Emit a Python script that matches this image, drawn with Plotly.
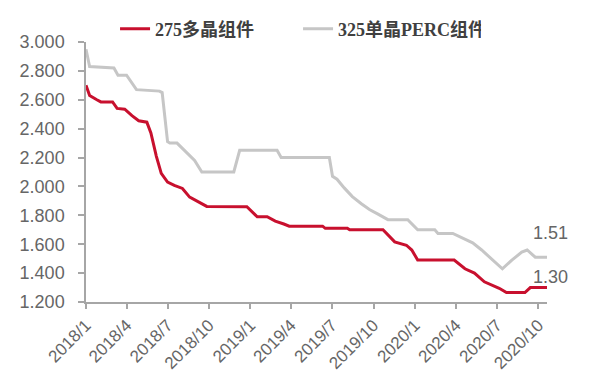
import plotly.graph_objects as go

# ---- data ----
poly_dates = ["2018-01-01", "2018-01-09", "2018-01-25", "2018-02-03", "2018-03-01", "2018-03-11",
              "2018-03-28", "2018-04-13", "2018-04-28", "2018-05-16", "2018-05-25", "2018-06-06",
              "2018-06-17", "2018-07-01", "2018-07-16", "2018-08-03", "2018-08-19", "2018-09-04",
              "2018-09-26", "2018-12-24", "2019-01-16", "2019-02-07", "2019-02-25", "2019-03-16",
              "2019-03-28", "2019-06-10", "2019-06-16", "2019-08-04", "2019-08-09", "2019-10-22",
              "2019-11-17", "2019-12-13", "2019-12-25", "2020-01-07", "2020-03-28", "2020-04-21",
              "2020-05-12", "2020-06-03", "2020-07-06", "2020-07-22", "2020-09-01", "2020-09-13",
              "2020-10-20"]
poly_prices = [2.70, 2.63, 2.60, 2.585, 2.585, 2.54,
               2.535, 2.49, 2.455, 2.445, 2.37, 2.21,
               2.09, 2.03, 2.007, 1.986, 1.926, 1.90,
               1.862, 1.86, 1.79, 1.79, 1.76, 1.74,
               1.725, 1.725, 1.71, 1.71, 1.70, 1.70,
               1.616, 1.593, 1.56, 1.49, 1.49, 1.43,
               1.40, 1.34, 1.295, 1.265, 1.265, 1.30,
               1.30]

perc_dates = ["2018-01-01", "2018-01-09", "2018-03-04", "2018-03-13", "2018-04-01", "2018-04-23",
              "2018-06-13", "2018-06-19", "2018-07-01", "2018-07-06", "2018-07-22", "2018-08-14",
              "2018-08-30", "2018-09-15", "2018-11-25", "2018-12-08", "2019-03-01", "2019-03-10",
              "2019-06-25", "2019-07-02", "2019-07-12", "2019-07-28", "2019-08-15", "2019-09-04",
              "2019-09-22", "2019-10-10", "2019-11-02", "2019-12-16", "2020-01-07", "2020-02-14",
              "2020-02-21", "2020-03-25", "2020-04-16", "2020-05-08", "2020-05-28", "2020-06-15",
              "2020-07-13", "2020-08-03", "2020-08-25", "2020-09-06", "2020-09-24", "2020-10-20"]
perc_prices = [2.95, 2.83, 2.82, 2.77, 2.77, 2.67,
               2.66, 2.65, 2.31, 2.30, 2.30, 2.23,
               2.18, 2.10, 2.10, 2.25, 2.25, 2.20,
               2.20, 2.07, 2.05, 1.99, 1.93, 1.88,
               1.84, 1.81, 1.77, 1.77, 1.70, 1.70,
               1.675, 1.675, 1.64, 1.61, 1.56, 1.51,
               1.43, 1.49, 1.545, 1.56, 1.51, 1.51]

tick_dates = ["2018-01-01", "2018-04-01", "2018-07-01", "2018-10-01", "2019-01-01", "2019-04-01",
              "2019-07-01", "2019-10-01", "2020-01-01", "2020-04-01", "2020-07-01", "2020-10-01"]
tick_labels = ["2018/1", "2018/4", "2018/7", "2018/10", "2019/1", "2019/4",
               "2019/7", "2019/10", "2020/1", "2020/4", "2020/7", "2020/10"]

series_names = ["275多晶组件", "325单晶PERC组件"]

RED = "#C8102E"
GRAY = "#C6C6C6"
AXIS = "#A6A6A6"
TXT = "#666666"

fig = go.Figure()
fig.add_trace(go.Scatter(x=poly_dates, y=poly_prices, mode="lines", name=series_names[0],
                         line=dict(color=RED, width=3)))
fig.add_trace(go.Scatter(x=perc_dates, y=perc_prices, mode="lines", name=series_names[1],
                         line=dict(color=GRAY, width=3)))

fig.add_annotation(x=perc_dates[-1], y=perc_prices[-1], text=f"{perc_prices[-1]:.2f}",
                   showarrow=False, xanchor="center", yanchor="middle", xshift=3, yshift=24,
                   font=dict(family="Liberation Sans, Arial", size=18, color=TXT))
fig.add_annotation(x=poly_dates[-1], y=poly_prices[-1], text=f"{poly_prices[-1]:.2f}",
                   showarrow=False, xanchor="center", yanchor="middle", xshift=3, yshift=11,
                   font=dict(family="Liberation Sans, Arial", size=18, color=TXT))

fig.update_layout(
    width=600, height=385,
    margin=dict(l=86, r=53, t=41, b=83),
    paper_bgcolor="white", plot_bgcolor="white",
    font=dict(family="Liberation Sans, Arial", color=TXT),
    showlegend=True,
    legend=dict(orientation="h", x=0.063, y=1.046, xanchor="left", yanchor="middle",
                font=dict(family="Liberation Serif, Noto Sans CJK SC", size=18, color="#404040",
                          weight="bold"),
                bgcolor="rgba(0,0,0,0)", entrywidth=138),
    xaxis=dict(type="date", range=["2018-01-01", "2020-10-20"],
               tickvals=tick_dates, ticktext=tick_labels, tickangle=-45,
               showline=True, linecolor=AXIS, linewidth=1.5,
               ticks="outside", ticklen=5, tickcolor=AXIS, tickwidth=1.5,
               showgrid=False, zeroline=False,
               tickfont=dict(size=17, color=TXT)),
    yaxis=dict(range=[1.2, 3.0], tickvals=[1.2, 1.4, 1.6, 1.8, 2.0, 2.2, 2.4, 2.6, 2.8, 3.0],
               tickformat=".3f",
               showline=True, linecolor=AXIS, linewidth=1.5,
               ticks="outside", ticklen=6, tickcolor=AXIS, tickwidth=1.5,
               showgrid=False, zeroline=False, ticklabelstandoff=10,
               tickfont=dict(size=18, color=TXT)),
)

fig.write_html("out.html")
